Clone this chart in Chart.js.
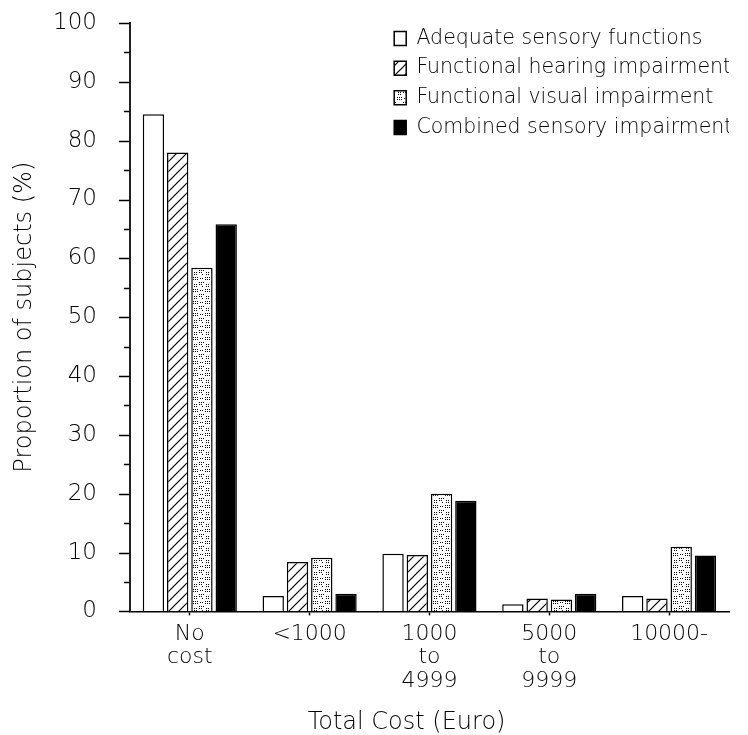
<!DOCTYPE html>
<html>
<head>
<meta charset="utf-8">
<script src="https://cdn.jsdelivr.net/npm/chart.js@4.4.0/dist/chart.umd.min.js"></script>
<style>
  html, body { margin: 0; padding: 0; background: #fff; }
  #wrap { width: 748px; height: 735px; }
</style>
</head>
<body>
<div id="wrap"><canvas id="myChart"></canvas></div>
<script>
// 数据
const costLabels = [['No', 'cost'], ['<1000'], ['1000', 'to', '4999'], ['5000', 'to', '9999'], ['10000-']];
const seriesNames = ['Adequate sensory functions', 'Functional hearing impairment', 'Functional visual impairment', 'Combined sensory impairment'];
const adequate = [84.5, 2.6, 9.8, 1.2, 2.6];
const hearing = [78.0, 8.4, 9.6, 2.2, 2.2];
const visual = [58.4, 9.1, 20.0, 2.0, 11.0];
const combined = [65.8, 3.0, 18.8, 3.0, 9.5];
const minorTickValues = [5, 15, 25, 35, 45, 55, 65, 75, 85, 95];

// 斜线填充
function hatchPattern() {
  const c = document.createElement('canvas');
  c.width = 10; c.height = 10;
  const g = c.getContext('2d');
  g.fillStyle = '#fff';
  g.fillRect(0, 0, 10, 10);
  g.strokeStyle = '#000';
  g.lineWidth = 1.2;
  g.beginPath();
  g.moveTo(-1, 11); g.lineTo(11, -1);
  g.moveTo(-1, 1); g.lineTo(1, -1);
  g.moveTo(9, 11); g.lineTo(11, 9);
  g.stroke();
  return g.createPattern(c, 'repeat');
}

// 点状填充
function dotPattern() {
  const c = document.createElement('canvas');
  c.width = 12; c.height = 12;
  const g = c.getContext('2d');
  g.fillStyle = '#fff';
  g.fillRect(0, 0, 12, 12);
  g.fillStyle = '#000';
  [[1, 1], [3, 1], [5, 1], [1, 3], [3, 3], [5, 3], [8, 2], [10, 2],
   [7, 6], [9, 6], [11, 6], [7, 8], [9, 8], [2, 8], [4, 8], [2, 10], [4, 10], [10, 10]]
    .forEach(([x, y]) => g.fillRect(x, y, 1, 1));
  return g.createPattern(c, 'repeat');
}

Chart.defaults.font.family = "'DejaVu Sans', sans-serif";
Chart.defaults.font.weight = '200';
Chart.defaults.color = '#000';

// Y轴刻度线（大刻度 11px，小刻度 6px）
const axisTicks = {
  id: 'axisTicks',
  afterDraw(chart) {
    const y = chart.scales.y;
    const ctx = chart.ctx;
    const x0 = chart.chartArea.left;
    const draw = (v, len) => {
      const py = Math.round(y.getPixelForValue(v)) + 0.5;
      ctx.beginPath();
      ctx.moveTo(x0 - len, py);
      ctx.lineTo(x0, py);
      ctx.stroke();
    };
    ctx.save();
    ctx.strokeStyle = '#000';
    ctx.lineWidth = 1.5;
    y.ticks.forEach(t => draw(t.value, 11));
    minorTickValues.forEach(v => draw(v, 6));
    ctx.restore();
  }
};

// 图例放到右上角
const legendPlace = {
  id: 'legendPlace',
  afterLayout(chart) {
    const lg = chart.legend;
    if (!lg) return;
    lg.left = 385;
    lg.top = 19;
    lg.bottom = lg.top + lg.height;
  }
};

const ctx = document.getElementById('myChart');
new Chart(ctx, {
  type: 'bar',
  data: {
    labels: costLabels,
    datasets: [
      { label: seriesNames[0], data: adequate, backgroundColor: '#fff' },
      { label: seriesNames[1], data: hearing, backgroundColor: hatchPattern() },
      { label: seriesNames[2], data: visual, backgroundColor: dotPattern() },
      { label: seriesNames[3], data: combined, backgroundColor: '#000' }
    ].map(d => Object.assign(d, { borderColor: '#000', borderWidth: 1.5, categoryPercentage: 0.81, barPercentage: 0.88 }))
  },
  options: {
    responsive: true,
    maintainAspectRatio: false,
    animation: false,
    layout: { padding: { left: 13, right: 19, top: 23, bottom: 0 } },
    plugins: {
      legend: {
        position: 'chartArea',
        align: 'start',
        labels: {
          font: { size: 20.5 },
          boxWidth: 12,
          boxHeight: 14,
          padding: 9.2
        }
      },
      tooltip: { enabled: false }
    },
    scales: {
      x: {
        grid: {
          display: true,
          offset: false,
          drawOnChartArea: false,
          tickLength: 4,
          tickColor: '#000',
          tickWidth: 1.5
        },
        border: { color: '#000', width: 1.5, dash: [2, 1] },
        ticks: { font: { size: 22, lineHeight: 1.07 }, padding: 7, maxRotation: 0 },
        title: {
          display: true,
          text: 'Total Cost (Euro)      ',
          font: { size: 24, lineHeight: 1 },
          padding: { top: 11, bottom: 0 }
        }
      },
      y: {
        min: 0,
        max: 100,
        ticks: { stepSize: 10, font: { size: 23 }, padding: 0 },
        grid: {
          display: true,
          drawOnChartArea: false,
          tickLength: 33,
          tickColor: 'rgba(0,0,0,0)'
        },
        border: { color: '#222', width: 2 },
        title: {
          display: true,
          text: 'Proportion of subjects (%)',
          font: { size: 24, lineHeight: 1 },
          padding: { top: 0, bottom: 16 }
        }
      }
    }
  },
  plugins: [axisTicks, legendPlace]
});
</script>
</body>
</html>
